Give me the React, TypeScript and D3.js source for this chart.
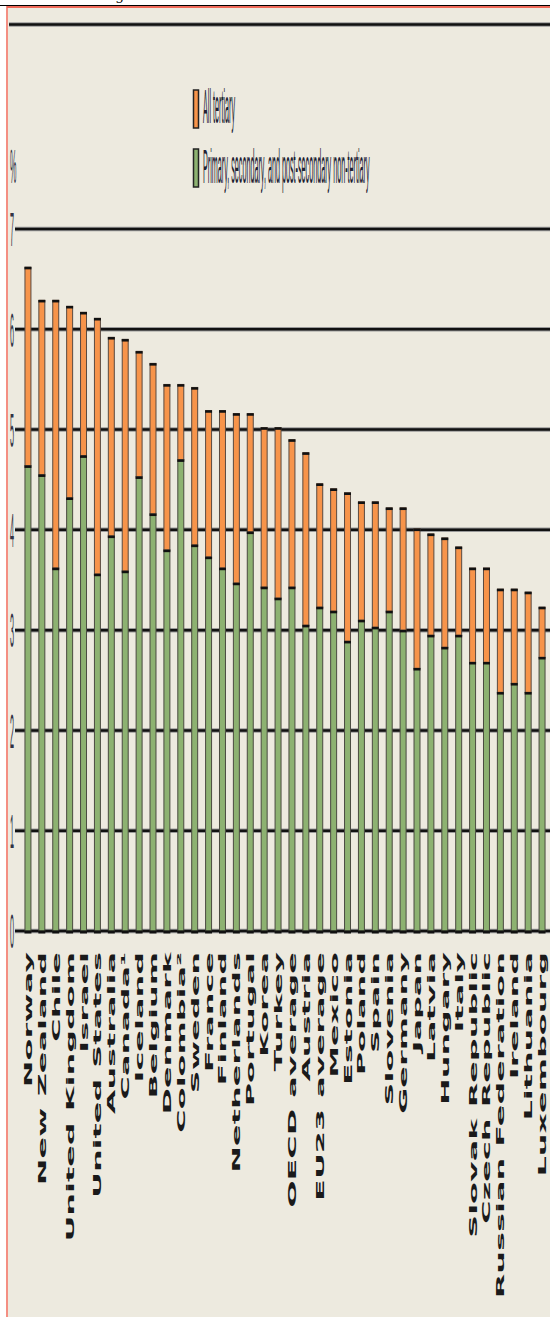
import React from 'react';
import * as d3 from 'd3';

const countries = [
  'Norway', 'New Zealand', 'Chile', 'United Kingdom', 'Israel', 'United States', 'Australia',
  'Canada\u00b9', 'Iceland', 'Belgium', 'Denmark', 'Colombia\u00b2', 'Sweden', 'France', 'Finland',
  'Netherlands', 'Portugal', 'Korea', 'Turkey', 'OECD average', 'Austria', 'EU23 average', 'Mexico',
  'Estonia', 'Poland', 'Spain', 'Slovenia', 'Germany', 'Japan', 'Latvia', 'Hungary', 'Italy',
  'Slovak Republic', 'Czech Republic', 'Russian Federation', 'Ireland', 'Lithuania', 'Luxembourg',
];

// total (all levels) and non-tertiary part, % of GDP
const totalValues = [
  6.62, 6.29, 6.29, 6.23, 6.17, 6.11, 5.92, 5.9, 5.78, 5.66, 5.45, 5.45, 5.42, 5.19, 5.19,
  5.16, 5.16, 5.02, 5.02, 4.9, 4.77, 4.46, 4.41, 4.37, 4.28, 4.28, 4.22, 4.22, 4.01, 3.96,
  3.92, 3.83, 3.62, 3.62, 3.41, 3.41, 3.38, 3.23,
];
const nonTertiaryValues = [
  4.64, 4.55, 3.62, 4.32, 4.74, 3.56, 3.94, 3.59, 4.53, 4.16, 3.8, 4.7, 3.85, 3.73, 3.62,
  3.47, 3.98, 3.43, 3.32, 3.43, 3.05, 3.23, 3.19, 2.89, 3.1, 3.03, 3.19, 3.0, 2.62, 2.95,
  2.83, 2.95, 2.68, 2.68, 2.38, 2.47, 2.38, 2.73,
];
const yTicks = [0, 1, 2, 3, 4, 5, 6, 7];
const legendItems = ['All tertiary', 'Primary, secondary, and post-secondary non-tertiary'];

const W = 550;
const H = 1317;
const ORANGE = '#f7944a';
const GREEN = '#8db271';
const BG = '#edeadf';

const App = () => {
  const x = d3.scaleBand<string>()
    .domain(countries)
    .range([21, 549])
    .paddingInner(0.57)
    .paddingOuter(0.285);
  const y = d3.scaleLinear().domain([0, 7]).range([931, 229]);
  const bw = x.bandwidth();

  const narrow = (tx: number, ty: number) => `translate(${tx},${ty}) scale(0.6,4)`;

  return (
    <svg width={W} height={H} style={{ position: 'absolute', left: 0, top: 0, background: '#fff' }}>
      {/* page chrome */}
      <text x={160} y={0} textAnchor="end" fontFamily="DejaVu Serif" fontSize={14} fill="#000">Ranking data</text>
      <rect x={8} y={8} width={W - 8} height={H - 8} fill={BG} />
      <line x1={0} x2={W} y1={5.5} y2={5.5} stroke="#000" strokeWidth={1} />
      <line x1={7} x2={W} y1={7} y2={7} stroke="#f06a5a" strokeWidth={2} />
      <line x1={7} x2={7} y1={6} y2={H} stroke="#f06a5a" strokeWidth={1.5} />

      {/* frame top */}
      <line x1={9} x2={W} y1={24.5} y2={24.5} stroke="#999" strokeWidth={4.5} />
      <line x1={9} x2={W} y1={24.5} y2={24.5} stroke="#111" strokeWidth={2.5} />

      {/* grid */}
      {yTicks.map((t) => (
        <g key={t}>
          <line x1={15} x2={W} y1={y(t)} y2={y(t)} stroke="#999" strokeWidth={4.5} />
          <line x1={15} x2={W} y1={y(t)} y2={y(t)} stroke="#111" strokeWidth={2.5} />
          <text transform={narrow(12, y(t))} y={4.3} textAnchor="middle"
            fontFamily="Liberation Sans" fontSize={12} fill="#334">{t}</text>
        </g>
      ))}
      <text transform={narrow(10, 183)} fontFamily="Liberation Sans" fontSize={12} fill="#334">%</text>

      {/* legend */}
      {legendItems.map((name, i) => (
        <g key={name}>
          <rect x={193.5} y={i === 0 ? 90 : 149} width={5} height={38} fill={i === 0 ? ORANGE : GREEN}
            stroke="#222" strokeWidth={1.5} />
          <text transform={narrow(203, i === 0 ? 123 : 183)} fontFamily="Liberation Sans" fontSize={12}
            fill="#223">{name}</text>
        </g>
      ))}

      {/* bars */}
      {countries.map((c, i) => {
        const x0 = x(c) as number;
        const yTop = y(totalValues[i]);
        const yMid = y(nonTertiaryValues[i]);
        const y0 = y(0);
        return (
          <g key={c}>
            <rect x={x0} y={yMid} width={bw} height={y0 - yMid} fill={GREEN} stroke="#4a4a40" strokeWidth={1} />
            <rect x={x0} y={yTop} width={bw} height={yMid - yTop} fill={ORANGE} stroke="#5a4a40" strokeWidth={1} />
            <line x1={x0 - 0.5} x2={x0 + bw + 0.5} y1={yTop + 1} y2={yTop + 1} stroke="#111" strokeWidth={2.5} />
            <line x1={x0 - 0.5} x2={x0 + bw + 0.5} y1={yMid + 1} y2={yMid + 1} stroke="#111" strokeWidth={2.5} />
            <line x1={x0 - 0.5} x2={x0 + bw + 0.5} y1={y0 + 1} y2={y0 + 1} stroke="#111" strokeWidth={3} />
          </g>
        );
      })}

      {/* category labels */}
      {countries.map((c) => (
        <text key={c}
          transform={`translate(${(x(c) as number) + bw / 2},952) rotate(-90) scale(2.9,1)`}
          y={4} textAnchor="end" fontFamily="DejaVu Sans" fontWeight="bold" fontSize={11}
          fill="#1a1a1a">{c}</text>
      ))}
    </svg>
  );
};

export default App;
